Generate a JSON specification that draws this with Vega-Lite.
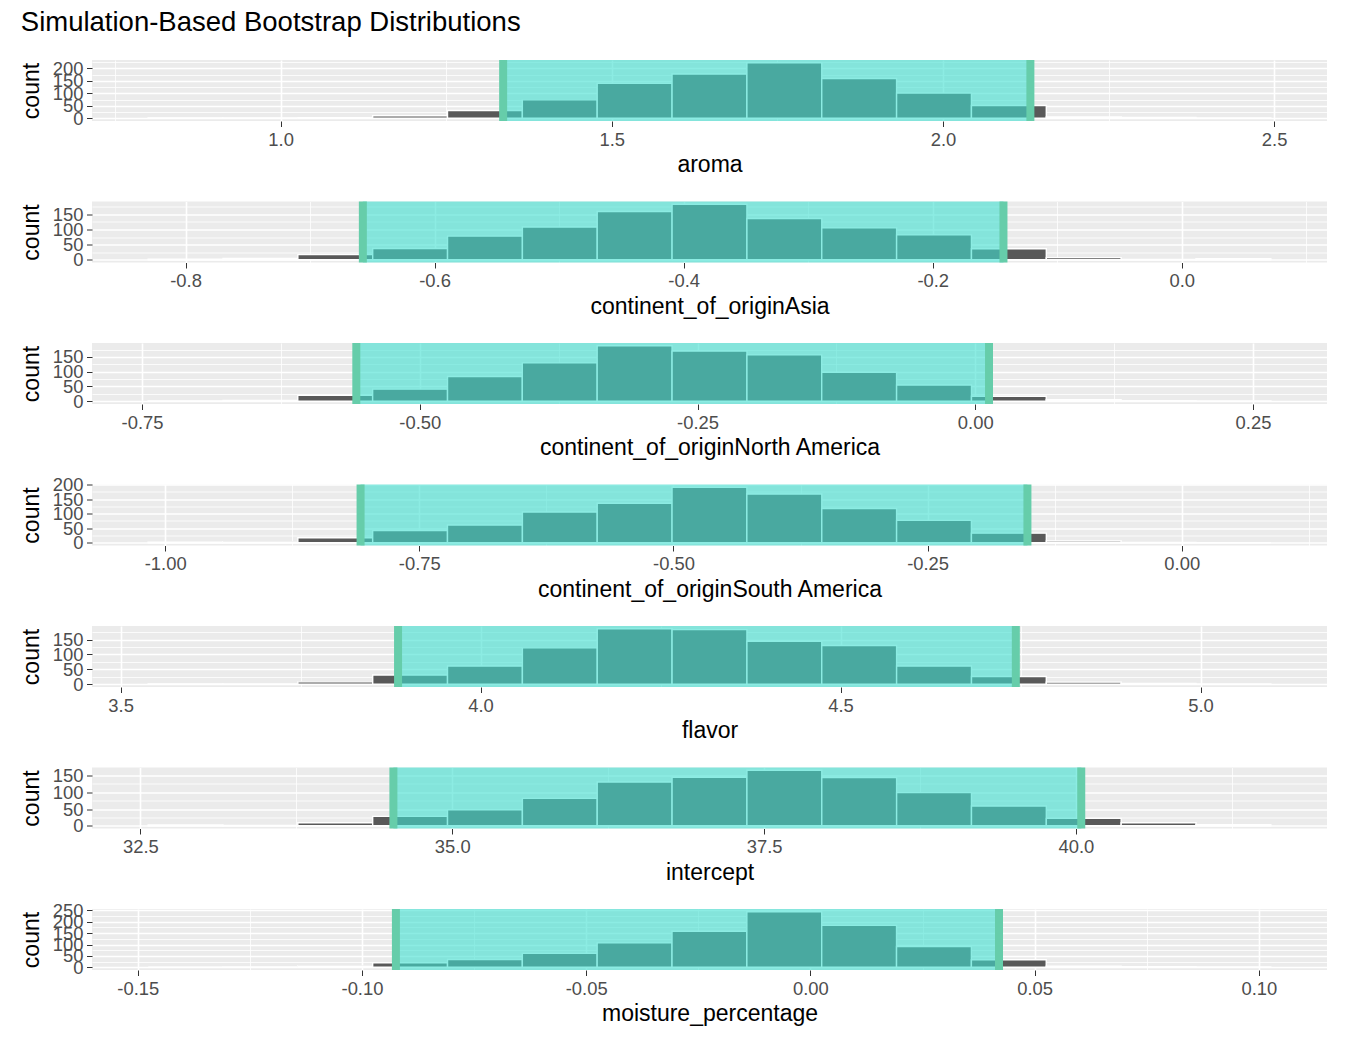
{
  "$schema": "https://vega.github.io/schema/vega-lite/v6.json",
  "padding": {"left": 20, "top": 8, "right": 20, "bottom": 10},
  "title": {"text": "Simulation-Based Bootstrap Distributions", "anchor": "start", "fontSize": 27.5, "fontWeight": "normal", "font": "Liberation Sans", "color": "black", "offset": 17},
  "config": {
    "font": "Liberation Sans",
    "view": {"stroke": null, "fill": "#EBEBEB"},
    "axis": {"gridColor": "white", "domain": false, "tickColor": "#333333", "tickSize": 5.5, "labelColor": "#4D4D4D", "labelFontSize": 18.4, "labelFont": "Liberation Sans", "titleFont": "Liberation Sans", "titleFontSize": 23, "titleFontWeight": "normal", "titleColor": "black", "labelOverlap": false, "labelFlush": false, "titlePadding": 5.5, "labelPadding": 3.5},
    "axisY": {"titlePadding": 8.5}
  },
  "datasets": {
    "bins": [
      {"term": "aroma", "lo": 0.800, "hi": 0.913, "count": 1},
      {"term": "aroma", "lo": 0.913, "hi": 1.026, "count": 1},
      {"term": "aroma", "lo": 1.026, "hi": 1.139, "count": 2},
      {"term": "aroma", "lo": 1.139, "hi": 1.252, "count": 10},
      {"term": "aroma", "lo": 1.252, "hi": 1.365, "count": 31},
      {"term": "aroma", "lo": 1.365, "hi": 1.478, "count": 74},
      {"term": "aroma", "lo": 1.478, "hi": 1.591, "count": 140},
      {"term": "aroma", "lo": 1.591, "hi": 1.704, "count": 178},
      {"term": "aroma", "lo": 1.704, "hi": 1.817, "count": 223},
      {"term": "aroma", "lo": 1.817, "hi": 1.930, "count": 160},
      {"term": "aroma", "lo": 1.930, "hi": 2.043, "count": 101},
      {"term": "aroma", "lo": 2.043, "hi": 2.156, "count": 51},
      {"term": "aroma", "lo": 2.156, "hi": 2.269, "count": 5},
      {"term": "aroma", "lo": 2.269, "hi": 2.382, "count": 3},
      {"term": "aroma", "lo": 2.382, "hi": 2.495, "count": 1},
      {"term": "continent_of_originAsia", "lo": -0.8300, "hi": -0.7699, "count": 2},
      {"term": "continent_of_originAsia", "lo": -0.7699, "hi": -0.7098, "count": 4},
      {"term": "continent_of_originAsia", "lo": -0.7098, "hi": -0.6497, "count": 17},
      {"term": "continent_of_originAsia", "lo": -0.6497, "hi": -0.5896, "count": 37},
      {"term": "continent_of_originAsia", "lo": -0.5896, "hi": -0.5295, "count": 78},
      {"term": "continent_of_originAsia", "lo": -0.5295, "hi": -0.4694, "count": 108},
      {"term": "continent_of_originAsia", "lo": -0.4694, "hi": -0.4093, "count": 159},
      {"term": "continent_of_originAsia", "lo": -0.4093, "hi": -0.3492, "count": 183},
      {"term": "continent_of_originAsia", "lo": -0.3492, "hi": -0.2891, "count": 136},
      {"term": "continent_of_originAsia", "lo": -0.2891, "hi": -0.2290, "count": 105},
      {"term": "continent_of_originAsia", "lo": -0.2290, "hi": -0.1689, "count": 82},
      {"term": "continent_of_originAsia", "lo": -0.1689, "hi": -0.1088, "count": 36},
      {"term": "continent_of_originAsia", "lo": -0.1088, "hi": -0.0487, "count": 7},
      {"term": "continent_of_originAsia", "lo": -0.0487, "hi": 0.0114, "count": 1},
      {"term": "continent_of_originAsia", "lo": 0.0114, "hi": 0.0715, "count": 3},
      {"term": "continent_of_originNorth America", "lo": -0.7445, "hi": -0.6771, "count": 1},
      {"term": "continent_of_originNorth America", "lo": -0.6771, "hi": -0.6098, "count": 3},
      {"term": "continent_of_originNorth America", "lo": -0.6098, "hi": -0.5424, "count": 20},
      {"term": "continent_of_originNorth America", "lo": -0.5424, "hi": -0.4750, "count": 41},
      {"term": "continent_of_originNorth America", "lo": -0.4750, "hi": -0.4077, "count": 84},
      {"term": "continent_of_originNorth America", "lo": -0.4077, "hi": -0.3403, "count": 130},
      {"term": "continent_of_originNorth America", "lo": -0.3403, "hi": -0.2729, "count": 188},
      {"term": "continent_of_originNorth America", "lo": -0.2729, "hi": -0.2055, "count": 170},
      {"term": "continent_of_originNorth America", "lo": -0.2055, "hi": -0.1382, "count": 157},
      {"term": "continent_of_originNorth America", "lo": -0.1382, "hi": -0.0708, "count": 98},
      {"term": "continent_of_originNorth America", "lo": -0.0708, "hi": -0.0034, "count": 55},
      {"term": "continent_of_originNorth America", "lo": -0.0034, "hi": 0.0639, "count": 17},
      {"term": "continent_of_originNorth America", "lo": 0.0639, "hi": 0.1313, "count": 5},
      {"term": "continent_of_originNorth America", "lo": 0.1313, "hi": 0.1987, "count": 2},
      {"term": "continent_of_originNorth America", "lo": 0.1987, "hi": 0.2661, "count": 1},
      {"term": "continent_of_originSouth America", "lo": -1.0168, "hi": -0.9432, "count": 2},
      {"term": "continent_of_originSouth America", "lo": -0.9432, "hi": -0.8695, "count": 3},
      {"term": "continent_of_originSouth America", "lo": -0.8695, "hi": -0.7959, "count": 17},
      {"term": "continent_of_originSouth America", "lo": -0.7959, "hi": -0.7223, "count": 42},
      {"term": "continent_of_originSouth America", "lo": -0.7223, "hi": -0.6486, "count": 61},
      {"term": "continent_of_originSouth America", "lo": -0.6486, "hi": -0.5750, "count": 106},
      {"term": "continent_of_originSouth America", "lo": -0.5750, "hi": -0.5014, "count": 136},
      {"term": "continent_of_originSouth America", "lo": -0.5014, "hi": -0.4278, "count": 191},
      {"term": "continent_of_originSouth America", "lo": -0.4278, "hi": -0.3541, "count": 168},
      {"term": "continent_of_originSouth America", "lo": -0.3541, "hi": -0.2805, "count": 118},
      {"term": "continent_of_originSouth America", "lo": -0.2805, "hi": -0.2069, "count": 77},
      {"term": "continent_of_originSouth America", "lo": -0.2069, "hi": -0.1332, "count": 33},
      {"term": "continent_of_originSouth America", "lo": -0.1332, "hi": -0.0596, "count": 6},
      {"term": "continent_of_originSouth America", "lo": -0.0596, "hi": 0.0140, "count": 1},
      {"term": "continent_of_originSouth America", "lo": 0.0140, "hi": 0.0877, "count": 0},
      {"term": "flavor", "lo": 3.5383, "hi": 3.6423, "count": 1},
      {"term": "flavor", "lo": 3.6423, "hi": 3.7462, "count": 1},
      {"term": "flavor", "lo": 3.7462, "hi": 3.8502, "count": 8},
      {"term": "flavor", "lo": 3.8502, "hi": 3.9541, "count": 31},
      {"term": "flavor", "lo": 3.9541, "hi": 4.0581, "count": 61},
      {"term": "flavor", "lo": 4.0581, "hi": 4.1621, "count": 122},
      {"term": "flavor", "lo": 4.1621, "hi": 4.2660, "count": 186},
      {"term": "flavor", "lo": 4.2660, "hi": 4.3700, "count": 183},
      {"term": "flavor", "lo": 4.3700, "hi": 4.4739, "count": 144},
      {"term": "flavor", "lo": 4.4739, "hi": 4.5779, "count": 130},
      {"term": "flavor", "lo": 4.5779, "hi": 4.6819, "count": 61},
      {"term": "flavor", "lo": 4.6819, "hi": 4.7858, "count": 26},
      {"term": "flavor", "lo": 4.7858, "hi": 4.8898, "count": 7},
      {"term": "flavor", "lo": 4.8898, "hi": 4.9937, "count": 3},
      {"term": "flavor", "lo": 4.9937, "hi": 5.0977, "count": 1},
      {"term": "intercept", "lo": 32.5625, "hi": 33.1625, "count": 2},
      {"term": "intercept", "lo": 33.1625, "hi": 33.7625, "count": 1},
      {"term": "intercept", "lo": 33.7625, "hi": 34.3625, "count": 9},
      {"term": "intercept", "lo": 34.3625, "hi": 34.9625, "count": 28},
      {"term": "intercept", "lo": 34.9625, "hi": 35.5625, "count": 48},
      {"term": "intercept", "lo": 35.5625, "hi": 36.1625, "count": 82},
      {"term": "intercept", "lo": 36.1625, "hi": 36.7625, "count": 131},
      {"term": "intercept", "lo": 36.7625, "hi": 37.3625, "count": 145},
      {"term": "intercept", "lo": 37.3625, "hi": 37.9625, "count": 166},
      {"term": "intercept", "lo": 37.9625, "hi": 38.5625, "count": 144},
      {"term": "intercept", "lo": 38.5625, "hi": 39.1625, "count": 99},
      {"term": "intercept", "lo": 39.1625, "hi": 39.7625, "count": 59},
      {"term": "intercept", "lo": 39.7625, "hi": 40.3625, "count": 22},
      {"term": "intercept", "lo": 40.3625, "hi": 40.9625, "count": 9},
      {"term": "intercept", "lo": 40.9625, "hi": 41.5625, "count": 3},
      {"term": "moisture_percentage", "lo": -0.14768, "hi": -0.13099, "count": 0},
      {"term": "moisture_percentage", "lo": -0.13099, "hi": -0.11430, "count": 1},
      {"term": "moisture_percentage", "lo": -0.11430, "hi": -0.09761, "count": 6},
      {"term": "moisture_percentage", "lo": -0.09761, "hi": -0.08092, "count": 19},
      {"term": "moisture_percentage", "lo": -0.08092, "hi": -0.06424, "count": 34},
      {"term": "moisture_percentage", "lo": -0.06424, "hi": -0.04755, "count": 61},
      {"term": "moisture_percentage", "lo": -0.04755, "hi": -0.03086, "count": 107},
      {"term": "moisture_percentage", "lo": -0.03086, "hi": -0.01417, "count": 158},
      {"term": "moisture_percentage", "lo": -0.01417, "hi": 0.00252, "count": 244},
      {"term": "moisture_percentage", "lo": 0.00252, "hi": 0.01921, "count": 184},
      {"term": "moisture_percentage", "lo": 0.01921, "hi": 0.03590, "count": 91},
      {"term": "moisture_percentage", "lo": 0.03590, "hi": 0.05259, "count": 33},
      {"term": "moisture_percentage", "lo": 0.05259, "hi": 0.06928, "count": 5},
      {"term": "moisture_percentage", "lo": 0.06928, "hi": 0.08597, "count": 2},
      {"term": "moisture_percentage", "lo": 0.08597, "hi": 0.10266, "count": 1}
    ],
    "ci": [
      {"term": "aroma", "lower": 1.336, "upper": 2.132},
      {"term": "continent_of_originAsia", "lower": -0.6576, "upper": -0.1432},
      {"term": "continent_of_originNorth America", "lower": -0.5571, "upper": 0.0124},
      {"term": "continent_of_originSouth America", "lower": -0.8078, "upper": -0.1518},
      {"term": "flavor", "lower": 3.8854, "upper": 4.7435},
      {"term": "intercept", "lower": 34.5285, "upper": 40.0425},
      {"term": "moisture_percentage", "lower": -0.09243, "upper": 0.04206}
    ]
  },
  "bounds": "flush",
  "spacing": 80.5,
  "vconcat": [
    {
      "width": 1235, "height": 61,
      "layer": [
        {"data": {"name": "bins"}, "transform": [{"filter": "datum.term === 'aroma'"}],
         "mark": {"type": "rect", "fill": "#595959", "stroke": "white", "strokeWidth": 1.4},
         "encoding": {
           "x": {"field": "lo", "type": "quantitative", "title": "aroma", "scale": {"domain": [0.7153, 2.5798], "nice": false, "zero": false},
             "axis": {"values": [0.75, 1, 1.25, 1.5, 1.75, 2, 2.25, 2.5],
               "labelExpr": "abs(datum.value/0.5-round(datum.value/0.5))<1e-6 ? replace(format(datum.value,'.1f'),'\u2212','-') : ''",
               "tickOpacity": {"condition": {"test": "abs(datum.value/0.5-round(datum.value/0.5))<1e-6", "value": 1}, "value": 0},
               "gridWidth": {"condition": {"test": "abs(datum.value/0.5-round(datum.value/0.5))<1e-6", "value": 1.6}, "value": 0.8}}},
           "x2": {"field": "hi"},
           "y": {"field": "count", "type": "quantitative", "title": "count", "scale": {"domain": [-11.15, 234.15], "nice": false, "zero": false},
             "axis": {"values": [0, 25, 50, 75, 100, 125, 150, 175, 200, 225],
               "labelExpr": "datum.value % 50 === 0 ? datum.label : ''",
               "tickOpacity": {"condition": {"test": "datum.value % 50 === 0", "value": 1}, "value": 0},
               "gridWidth": {"condition": {"test": "datum.value % 50 === 0", "value": 1.6}, "value": 0.8}}},
           "y2": {"datum": 0}
         }},
        {"data": {"name": "ci"}, "transform": [{"filter": "datum.term === 'aroma'"}],
         "mark": {"type": "rect", "fill": "#40E0D0", "opacity": 0.6},
         "encoding": {"x": {"field": "lower", "type": "quantitative", "title": "aroma", "scale": {"domain": [0.7153, 2.5798], "nice": false, "zero": false}}, "x2": {"field": "upper"}}},
        {"data": {"name": "ci"}, "transform": [{"filter": "datum.term === 'aroma'"}],
         "mark": {"type": "rule", "color": "#66CDAA", "strokeWidth": 8},
         "encoding": {"x": {"field": "lower", "type": "quantitative", "title": "aroma", "scale": {"domain": [0.7153, 2.5798], "nice": false, "zero": false}}}},
        {"data": {"name": "ci"}, "transform": [{"filter": "datum.term === 'aroma'"}],
         "mark": {"type": "rule", "color": "#66CDAA", "strokeWidth": 8},
         "encoding": {"x": {"field": "upper", "type": "quantitative", "title": "aroma", "scale": {"domain": [0.7153, 2.5798], "nice": false, "zero": false}}}}
      ]
    },
    {
      "width": 1235, "height": 61,
      "layer": [
        {"data": {"name": "bins"}, "transform": [{"filter": "datum.term === 'continent_of_originAsia'"}],
         "mark": {"type": "rect", "fill": "#595959", "stroke": "white", "strokeWidth": 1.4},
         "encoding": {
           "x": {"field": "lo", "type": "quantitative", "title": "continent_of_originAsia", "scale": {"domain": [-0.8751, 0.1166], "nice": false, "zero": false},
             "axis": {"values": [-0.8, -0.7, -0.6, -0.5, -0.4, -0.3, -0.2, -0.1, 0, 0.1],
               "labelExpr": "abs(datum.value/0.2-round(datum.value/0.2))<1e-6 ? replace(format(datum.value,'.1f'),'\u2212','-') : ''",
               "tickOpacity": {"condition": {"test": "abs(datum.value/0.2-round(datum.value/0.2))<1e-6", "value": 1}, "value": 0},
               "gridWidth": {"condition": {"test": "abs(datum.value/0.2-round(datum.value/0.2))<1e-6", "value": 1.6}, "value": 0.8}}},
           "x2": {"field": "hi"},
           "y": {"field": "count", "type": "quantitative", "title": "count", "scale": {"domain": [-9.15, 192.15], "nice": false, "zero": false},
             "axis": {"values": [0, 25, 50, 75, 100, 125, 150, 175],
               "labelExpr": "datum.value % 50 === 0 ? datum.label : ''",
               "tickOpacity": {"condition": {"test": "datum.value % 50 === 0", "value": 1}, "value": 0},
               "gridWidth": {"condition": {"test": "datum.value % 50 === 0", "value": 1.6}, "value": 0.8}}},
           "y2": {"datum": 0}
         }},
        {"data": {"name": "ci"}, "transform": [{"filter": "datum.term === 'continent_of_originAsia'"}],
         "mark": {"type": "rect", "fill": "#40E0D0", "opacity": 0.6},
         "encoding": {"x": {"field": "lower", "type": "quantitative", "title": "continent_of_originAsia", "scale": {"domain": [-0.8751, 0.1166], "nice": false, "zero": false}}, "x2": {"field": "upper"}}},
        {"data": {"name": "ci"}, "transform": [{"filter": "datum.term === 'continent_of_originAsia'"}],
         "mark": {"type": "rule", "color": "#66CDAA", "strokeWidth": 8},
         "encoding": {"x": {"field": "lower", "type": "quantitative", "title": "continent_of_originAsia", "scale": {"domain": [-0.8751, 0.1166], "nice": false, "zero": false}}}},
        {"data": {"name": "ci"}, "transform": [{"filter": "datum.term === 'continent_of_originAsia'"}],
         "mark": {"type": "rule", "color": "#66CDAA", "strokeWidth": 8},
         "encoding": {"x": {"field": "upper", "type": "quantitative", "title": "continent_of_originAsia", "scale": {"domain": [-0.8751, 0.1166], "nice": false, "zero": false}}}}
      ]
    },
    {
      "width": 1235, "height": 61,
      "layer": [
        {"data": {"name": "bins"}, "transform": [{"filter": "datum.term === 'continent_of_originNorth America'"}],
         "mark": {"type": "rect", "fill": "#595959", "stroke": "white", "strokeWidth": 1.4},
         "encoding": {
           "x": {"field": "lo", "type": "quantitative", "title": "continent_of_originNorth America", "scale": {"domain": [-0.795, 0.3166], "nice": false, "zero": false},
             "axis": {"values": [-0.75, -0.625, -0.5, -0.375, -0.25, -0.125, 0, 0.125, 0.25],
               "labelExpr": "abs(datum.value/0.25-round(datum.value/0.25))<1e-6 ? replace(format(datum.value,'.2f'),'\u2212','-') : ''",
               "tickOpacity": {"condition": {"test": "abs(datum.value/0.25-round(datum.value/0.25))<1e-6", "value": 1}, "value": 0},
               "gridWidth": {"condition": {"test": "abs(datum.value/0.25-round(datum.value/0.25))<1e-6", "value": 1.6}, "value": 0.8}}},
           "x2": {"field": "hi"},
           "y": {"field": "count", "type": "quantitative", "title": "count", "scale": {"domain": [-9.4, 197.4], "nice": false, "zero": false},
             "axis": {"values": [0, 25, 50, 75, 100, 125, 150, 175],
               "labelExpr": "datum.value % 50 === 0 ? datum.label : ''",
               "tickOpacity": {"condition": {"test": "datum.value % 50 === 0", "value": 1}, "value": 0},
               "gridWidth": {"condition": {"test": "datum.value % 50 === 0", "value": 1.6}, "value": 0.8}}},
           "y2": {"datum": 0}
         }},
        {"data": {"name": "ci"}, "transform": [{"filter": "datum.term === 'continent_of_originNorth America'"}],
         "mark": {"type": "rect", "fill": "#40E0D0", "opacity": 0.6},
         "encoding": {"x": {"field": "lower", "type": "quantitative", "title": "continent_of_originNorth America", "scale": {"domain": [-0.795, 0.3166], "nice": false, "zero": false}}, "x2": {"field": "upper"}}},
        {"data": {"name": "ci"}, "transform": [{"filter": "datum.term === 'continent_of_originNorth America'"}],
         "mark": {"type": "rule", "color": "#66CDAA", "strokeWidth": 8},
         "encoding": {"x": {"field": "lower", "type": "quantitative", "title": "continent_of_originNorth America", "scale": {"domain": [-0.795, 0.3166], "nice": false, "zero": false}}}},
        {"data": {"name": "ci"}, "transform": [{"filter": "datum.term === 'continent_of_originNorth America'"}],
         "mark": {"type": "rule", "color": "#66CDAA", "strokeWidth": 8},
         "encoding": {"x": {"field": "upper", "type": "quantitative", "title": "continent_of_originNorth America", "scale": {"domain": [-0.795, 0.3166], "nice": false, "zero": false}}}}
      ]
    },
    {
      "width": 1235, "height": 61,
      "layer": [
        {"data": {"name": "bins"}, "transform": [{"filter": "datum.term === 'continent_of_originSouth America'"}],
         "mark": {"type": "rect", "fill": "#595959", "stroke": "white", "strokeWidth": 1.4},
         "encoding": {
           "x": {"field": "lo", "type": "quantitative", "title": "continent_of_originSouth America", "scale": {"domain": [-1.072, 0.1429], "nice": false, "zero": false},
             "axis": {"values": [-1, -0.875, -0.75, -0.625, -0.5, -0.375, -0.25, -0.125, 0, 0.125],
               "labelExpr": "abs(datum.value/0.25-round(datum.value/0.25))<1e-6 ? replace(format(datum.value,'.2f'),'\u2212','-') : ''",
               "tickOpacity": {"condition": {"test": "abs(datum.value/0.25-round(datum.value/0.25))<1e-6", "value": 1}, "value": 0},
               "gridWidth": {"condition": {"test": "abs(datum.value/0.25-round(datum.value/0.25))<1e-6", "value": 1.6}, "value": 0.8}}},
           "x2": {"field": "hi"},
           "y": {"field": "count", "type": "quantitative", "title": "count", "scale": {"domain": [-9.55, 200.55], "nice": false, "zero": false},
             "axis": {"values": [0, 25, 50, 75, 100, 125, 150, 175, 200],
               "labelExpr": "datum.value % 50 === 0 ? datum.label : ''",
               "tickOpacity": {"condition": {"test": "datum.value % 50 === 0", "value": 1}, "value": 0},
               "gridWidth": {"condition": {"test": "datum.value % 50 === 0", "value": 1.6}, "value": 0.8}}},
           "y2": {"datum": 0}
         }},
        {"data": {"name": "ci"}, "transform": [{"filter": "datum.term === 'continent_of_originSouth America'"}],
         "mark": {"type": "rect", "fill": "#40E0D0", "opacity": 0.6},
         "encoding": {"x": {"field": "lower", "type": "quantitative", "title": "continent_of_originSouth America", "scale": {"domain": [-1.072, 0.1429], "nice": false, "zero": false}}, "x2": {"field": "upper"}}},
        {"data": {"name": "ci"}, "transform": [{"filter": "datum.term === 'continent_of_originSouth America'"}],
         "mark": {"type": "rule", "color": "#66CDAA", "strokeWidth": 8},
         "encoding": {"x": {"field": "lower", "type": "quantitative", "title": "continent_of_originSouth America", "scale": {"domain": [-1.072, 0.1429], "nice": false, "zero": false}}}},
        {"data": {"name": "ci"}, "transform": [{"filter": "datum.term === 'continent_of_originSouth America'"}],
         "mark": {"type": "rule", "color": "#66CDAA", "strokeWidth": 8},
         "encoding": {"x": {"field": "upper", "type": "quantitative", "title": "continent_of_originSouth America", "scale": {"domain": [-1.072, 0.1429], "nice": false, "zero": false}}}}
      ]
    },
    {
      "width": 1235, "height": 61,
      "layer": [
        {"data": {"name": "bins"}, "transform": [{"filter": "datum.term === 'flavor'"}],
         "mark": {"type": "rect", "fill": "#595959", "stroke": "white", "strokeWidth": 1.4},
         "encoding": {
           "x": {"field": "lo", "type": "quantitative", "title": "flavor", "scale": {"domain": [3.4603, 5.1757], "nice": false, "zero": false},
             "axis": {"values": [3.5, 3.75, 4, 4.25, 4.5, 4.75, 5],
               "labelExpr": "abs(datum.value/0.5-round(datum.value/0.5))<1e-6 ? replace(format(datum.value,'.1f'),'\u2212','-') : ''",
               "tickOpacity": {"condition": {"test": "abs(datum.value/0.5-round(datum.value/0.5))<1e-6", "value": 1}, "value": 0},
               "gridWidth": {"condition": {"test": "abs(datum.value/0.5-round(datum.value/0.5))<1e-6", "value": 1.6}, "value": 0.8}}},
           "x2": {"field": "hi"},
           "y": {"field": "count", "type": "quantitative", "title": "count", "scale": {"domain": [-9.3, 195.3], "nice": false, "zero": false},
             "axis": {"values": [0, 25, 50, 75, 100, 125, 150, 175],
               "labelExpr": "datum.value % 50 === 0 ? datum.label : ''",
               "tickOpacity": {"condition": {"test": "datum.value % 50 === 0", "value": 1}, "value": 0},
               "gridWidth": {"condition": {"test": "datum.value % 50 === 0", "value": 1.6}, "value": 0.8}}},
           "y2": {"datum": 0}
         }},
        {"data": {"name": "ci"}, "transform": [{"filter": "datum.term === 'flavor'"}],
         "mark": {"type": "rect", "fill": "#40E0D0", "opacity": 0.6},
         "encoding": {"x": {"field": "lower", "type": "quantitative", "title": "flavor", "scale": {"domain": [3.4603, 5.1757], "nice": false, "zero": false}}, "x2": {"field": "upper"}}},
        {"data": {"name": "ci"}, "transform": [{"filter": "datum.term === 'flavor'"}],
         "mark": {"type": "rule", "color": "#66CDAA", "strokeWidth": 8},
         "encoding": {"x": {"field": "lower", "type": "quantitative", "title": "flavor", "scale": {"domain": [3.4603, 5.1757], "nice": false, "zero": false}}}},
        {"data": {"name": "ci"}, "transform": [{"filter": "datum.term === 'flavor'"}],
         "mark": {"type": "rule", "color": "#66CDAA", "strokeWidth": 8},
         "encoding": {"x": {"field": "upper", "type": "quantitative", "title": "flavor", "scale": {"domain": [3.4603, 5.1757], "nice": false, "zero": false}}}}
      ]
    },
    {
      "width": 1235, "height": 61,
      "layer": [
        {"data": {"name": "bins"}, "transform": [{"filter": "datum.term === 'intercept'"}],
         "mark": {"type": "rect", "fill": "#595959", "stroke": "white", "strokeWidth": 1.4},
         "encoding": {
           "x": {"field": "lo", "type": "quantitative", "title": "intercept", "scale": {"domain": [32.1125, 42.0125], "nice": false, "zero": false},
             "axis": {"values": [32.5, 33.75, 35, 36.25, 37.5, 38.75, 40, 41.25],
               "labelExpr": "abs(datum.value/2.5-round(datum.value/2.5))<1e-6 ? replace(format(datum.value,'.1f'),'\u2212','-') : ''",
               "tickOpacity": {"condition": {"test": "abs(datum.value/2.5-round(datum.value/2.5))<1e-6", "value": 1}, "value": 0},
               "gridWidth": {"condition": {"test": "abs(datum.value/2.5-round(datum.value/2.5))<1e-6", "value": 1.6}, "value": 0.8}}},
           "x2": {"field": "hi"},
           "y": {"field": "count", "type": "quantitative", "title": "count", "scale": {"domain": [-8.3, 174.3], "nice": false, "zero": false},
             "axis": {"values": [0, 25, 50, 75, 100, 125, 150],
               "labelExpr": "datum.value % 50 === 0 ? datum.label : ''",
               "tickOpacity": {"condition": {"test": "datum.value % 50 === 0", "value": 1}, "value": 0},
               "gridWidth": {"condition": {"test": "datum.value % 50 === 0", "value": 1.6}, "value": 0.8}}},
           "y2": {"datum": 0}
         }},
        {"data": {"name": "ci"}, "transform": [{"filter": "datum.term === 'intercept'"}],
         "mark": {"type": "rect", "fill": "#40E0D0", "opacity": 0.6},
         "encoding": {"x": {"field": "lower", "type": "quantitative", "title": "intercept", "scale": {"domain": [32.1125, 42.0125], "nice": false, "zero": false}}, "x2": {"field": "upper"}}},
        {"data": {"name": "ci"}, "transform": [{"filter": "datum.term === 'intercept'"}],
         "mark": {"type": "rule", "color": "#66CDAA", "strokeWidth": 8},
         "encoding": {"x": {"field": "lower", "type": "quantitative", "title": "intercept", "scale": {"domain": [32.1125, 42.0125], "nice": false, "zero": false}}}},
        {"data": {"name": "ci"}, "transform": [{"filter": "datum.term === 'intercept'"}],
         "mark": {"type": "rule", "color": "#66CDAA", "strokeWidth": 8},
         "encoding": {"x": {"field": "upper", "type": "quantitative", "title": "intercept", "scale": {"domain": [32.1125, 42.0125], "nice": false, "zero": false}}}}
      ]
    },
    {
      "width": 1235, "height": 61,
      "layer": [
        {"data": {"name": "bins"}, "transform": [{"filter": "datum.term === 'moisture_percentage'"}],
         "mark": {"type": "rect", "fill": "#595959", "stroke": "white", "strokeWidth": 1.4},
         "encoding": {
           "x": {"field": "lo", "type": "quantitative", "title": "moisture_percentage", "scale": {"domain": [-0.1602, 0.1152], "nice": false, "zero": false},
             "axis": {"values": [-0.15, -0.125, -0.1, -0.075, -0.05, -0.025, 0, 0.025, 0.05, 0.075, 0.1],
               "labelExpr": "abs(datum.value/0.05-round(datum.value/0.05))<1e-6 ? replace(format(datum.value,'.2f'),'\u2212','-') : ''",
               "tickOpacity": {"condition": {"test": "abs(datum.value/0.05-round(datum.value/0.05))<1e-6", "value": 1}, "value": 0},
               "gridWidth": {"condition": {"test": "abs(datum.value/0.05-round(datum.value/0.05))<1e-6", "value": 1.6}, "value": 0.8}}},
           "x2": {"field": "hi"},
           "y": {"field": "count", "type": "quantitative", "title": "count", "scale": {"domain": [-12.2, 256.2], "nice": false, "zero": false},
             "axis": {"values": [0, 25, 50, 75, 100, 125, 150, 175, 200, 225, 250],
               "labelExpr": "datum.value % 50 === 0 ? datum.label : ''",
               "tickOpacity": {"condition": {"test": "datum.value % 50 === 0", "value": 1}, "value": 0},
               "gridWidth": {"condition": {"test": "datum.value % 50 === 0", "value": 1.6}, "value": 0.8}}},
           "y2": {"datum": 0}
         }},
        {"data": {"name": "ci"}, "transform": [{"filter": "datum.term === 'moisture_percentage'"}],
         "mark": {"type": "rect", "fill": "#40E0D0", "opacity": 0.6},
         "encoding": {"x": {"field": "lower", "type": "quantitative", "title": "moisture_percentage", "scale": {"domain": [-0.1602, 0.1152], "nice": false, "zero": false}}, "x2": {"field": "upper"}}},
        {"data": {"name": "ci"}, "transform": [{"filter": "datum.term === 'moisture_percentage'"}],
         "mark": {"type": "rule", "color": "#66CDAA", "strokeWidth": 8},
         "encoding": {"x": {"field": "lower", "type": "quantitative", "title": "moisture_percentage", "scale": {"domain": [-0.1602, 0.1152], "nice": false, "zero": false}}}},
        {"data": {"name": "ci"}, "transform": [{"filter": "datum.term === 'moisture_percentage'"}],
         "mark": {"type": "rule", "color": "#66CDAA", "strokeWidth": 8},
         "encoding": {"x": {"field": "upper", "type": "quantitative", "title": "moisture_percentage", "scale": {"domain": [-0.1602, 0.1152], "nice": false, "zero": false}}}}
      ]
    }
  ]
}
